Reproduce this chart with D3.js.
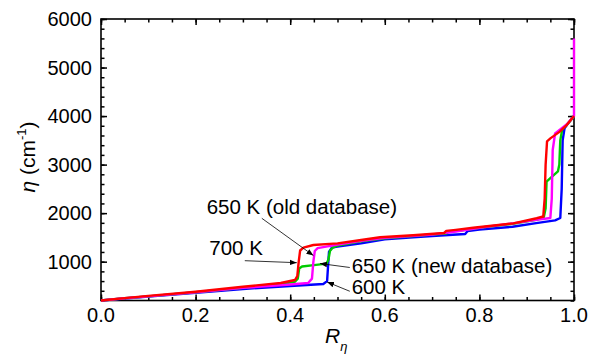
<!DOCTYPE html>
<html>
<head>
<meta charset="utf-8">
<script src="https://cdn.jsdelivr.net/npm/d3@7"></script>
<style>
  body { margin: 0; background: #fff; }
  svg { display: block; font-family: "Liberation Sans", Arial, sans-serif; }
</style>
</head>
<body>
<div id="root"></div>
<script>
// values: [R_eta, eta (cm-1)]
const series600 = [
  [0, 200], [0.05, 240], [0.1, 280], [0.2, 360], [0.3, 437], [0.4, 500], [0.47, 540],
  [0.478, 600], [0.48, 900], [0.482, 1200], [0.488, 1290], [0.5, 1310], [0.55, 1378],
  [0.6, 1460], [0.66, 1500], [0.7, 1530], [0.77, 1570], [0.775, 1630], [0.8, 1660],
  [0.87, 1720], [0.92, 1795], [0.96, 1850], [0.971, 1900], [0.974, 2500],
  [0.976, 3500], [0.98, 3750], [0.99, 3880], [1.0, 4000]
]
const series650new = [
  [0, 200], [0.05, 245], [0.1, 285], [0.2, 370], [0.3, 460], [0.38, 540], [0.41, 585],
  [0.416, 650], [0.419, 860], [0.425, 900], [0.45, 930], [0.477, 960], [0.481, 1050],
  [0.484, 1220], [0.49, 1290], [0.5, 1330], [0.55, 1420], [0.6, 1480], [0.7, 1560],
  [0.73, 1580], [0.735, 1620], [0.76, 1640], [0.8, 1700], [0.87, 1780], [0.92, 1860],
  [0.936, 1910], [0.94, 2100], [0.942, 2650], [0.95, 2720], [0.966, 2860],
  [0.969, 3000], [0.971, 3500], [0.975, 3720], [0.99, 3880], [1.0, 4000]
]
const series650old = [
  [0, 200], [0.05, 245], [0.1, 285], [0.2, 370], [0.3, 460], [0.4, 530], [0.438, 560],
  [0.446, 650], [0.449, 1000], [0.452, 1220], [0.458, 1280], [0.5, 1350], [0.55, 1430],
  [0.6, 1490], [0.7, 1560], [0.75, 1620], [0.8, 1700], [0.87, 1790], [0.92, 1860],
  [0.95, 1900], [0.953, 2300], [0.955, 3300], [0.96, 3640], [0.985, 3830], [1.0, 4000],
  [1.0, 5600]
]
const series700 = [
  [0, 200], [0.05, 250], [0.1, 295], [0.2, 381], [0.3, 484], [0.38, 560], [0.41, 622],
  [0.415, 700], [0.418, 1000], [0.421, 1230], [0.428, 1290], [0.449, 1344], [0.5, 1378],
  [0.55, 1447], [0.59, 1502], [0.66, 1543], [0.725, 1590], [0.73, 1635], [0.75, 1655],
  [0.787, 1700], [0.872, 1790], [0.921, 1894], [0.935, 1930], [0.938, 2300],
  [0.94, 3000], [0.943, 3480], [0.95, 3540], [0.97, 3680], [0.985, 3820], [1.0, 4000]
]

const seriesNames = ['600 K', '650 K (new database)', '650 K (old database)', '700 K']
const seriesValues = [series600, series650new, series650old, series700]
const seriesColors = ['#0000ff', '#00cc00', '#ff00ff', '#ff0000']

const xMajor = [0, 0.2, 0.4, 0.6, 0.8, 1.0]
const xMinor = d3.range(0, 1.0001, 0.05)
const yMajor = [1000, 2000, 3000, 4000, 5000, 6000]
const yMinor = d3.range(200, 6001, 200)

// label text, text anchor point, arrow start, arrow tip (data units)
const labels = [
  { text: '650 K (old database)', at: [0.2235, 1976], from: [0.34, 1894], to: [0.449, 1127] },
  { text: '700 K', at: [0.229, 1138], from: [0.304, 1020], to: [0.414, 979] },
  { text: '650 K (new database)', at: [0.53, 773], from: [0.526, 880], to: [0.463, 962] },
  { text: '600 K', at: [0.53, 335], from: [0.526, 390], to: [0.478, 581] }
]

const width = 591
const height = 354
const margin = { top: 19, right: 17, bottom: 53.5, left: 101 }

const svg = d3.select('#root').append('svg')
  .attr('width', width)
  .attr('height', height)

const x = d3.scaleLinear().domain([0, 1]).range([margin.left, width - margin.right])
const y = d3.scaleLinear().domain([200, 6000]).range([height - margin.bottom, margin.top])

svg.append('defs').append('marker')
  .attr('id', 'head')
  .attr('viewBox', '0 0 10 10')
  .attr('refX', 10).attr('refY', 5)
  .attr('markerWidth', 7).attr('markerHeight', 7)
  .attr('markerUnits', 'userSpaceOnUse')
  .attr('orient', 'auto')
  .append('path')
  .attr('d', 'M0,1 L10,5 L0,9 Z')
  .attr('fill', '#000')

// ticks, all pointing inward
function ticks (axis, values, size) {
  let a
  if (axis === 'bottom') a = d3.axisBottom(x).tickSizeInner(-size)
  if (axis === 'top') a = d3.axisTop(x).tickSizeInner(-size)
  if (axis === 'left') a = d3.axisLeft(y).tickSizeInner(-size)
  if (axis === 'right') a = d3.axisRight(y).tickSizeInner(-size)
  a.tickValues(values).tickSizeOuter(0).tickFormat('')
  const pos = {
    bottom: `translate(0,${y(200)})`,
    top: `translate(0,${y(6000)})`,
    left: `translate(${x(0)},0)`,
    right: `translate(${x(1)},0)`
  }
  const g = svg.append('g').attr('transform', pos[axis]).call(a)
  g.select('.domain').remove()
  g.selectAll('line').attr('stroke', '#000').attr('stroke-width', 1.5)
}

ticks('bottom', xMinor, 3.5)
ticks('bottom', xMajor, 6)
ticks('top', xMinor, 3.5)
ticks('top', xMajor, 6)
ticks('left', yMinor, 3.5)
ticks('left', yMajor, 6)
ticks('right', yMinor, 3.5)
ticks('right', yMajor, 6)

svg.append('rect')
  .attr('x', x(0)).attr('y', y(6000))
  .attr('width', x(1) - x(0)).attr('height', y(200) - y(6000))
  .attr('fill', 'none')
  .attr('stroke', '#000')
  .attr('stroke-width', 1.6)

const line = d3.line()
  .x(d => x(d[0]))
  .y(d => y(d[1]))

svg.append('g')
  .selectAll('path')
  .data(seriesValues)
  .join('path')
  .attr('d', line)
  .attr('fill', 'none')
  .attr('stroke', (d, i) => seriesColors[i])
  .attr('stroke-width', 2.4)
  .attr('stroke-linejoin', 'round')

svg.append('g')
  .selectAll('text')
  .data(xMajor)
  .join('text')
  .attr('x', d => x(d))
  .attr('y', y(200) + 21)
  .attr('text-anchor', 'middle')
  .attr('font-size', 20)
  .text(d => d.toFixed(1))

svg.append('g')
  .selectAll('text')
  .data(yMajor)
  .join('text')
  .attr('x', x(0) - 9)
  .attr('y', d => y(d) + 7)
  .attr('text-anchor', 'end')
  .attr('font-size', 20)
  .text(d => d)

// axis titles
const xt = svg.append('text')
  .attr('x', 325)
  .attr('y', 343)
  .attr('font-size', 21)
xt.append('tspan').attr('font-style', 'italic').text('R')
xt.append('tspan').attr('font-style', 'italic').attr('font-size', 13).attr('dy', 8).text('η')

const yt = svg.append('text')
  .attr('transform', 'translate(35,157) rotate(-90)')
  .attr('text-anchor', 'middle')
  .attr('font-size', 21)
yt.append('tspan').attr('font-style', 'italic').text('η')
yt.append('tspan').text(' (cm')
yt.append('tspan').attr('font-size', 13).attr('dy', -9).text('-1')
yt.append('tspan').attr('dy', 9).text(')')

// annotations
svg.append('g')
  .selectAll('line')
  .data(labels)
  .join('line')
  .attr('x1', d => x(d.from[0]))
  .attr('y1', d => y(d.from[1]))
  .attr('x2', d => x(d.to[0]))
  .attr('y2', d => y(d.to[1]))
  .attr('stroke', '#000')
  .attr('stroke-width', 0.8)
  .attr('marker-end', 'url(#head)')

svg.append('g')
  .selectAll('text')
  .data(labels)
  .join('text')
  .attr('x', d => x(d.at[0]))
  .attr('y', d => y(d.at[1]))
  .attr('font-size', 20.5)
  .text(d => d.text)
</script>
</body>
</html>
